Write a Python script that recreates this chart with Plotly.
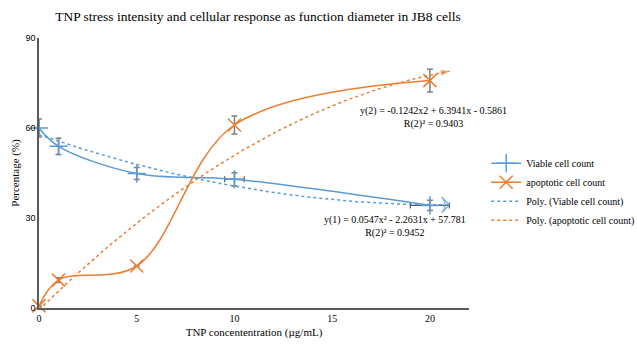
import numpy as np
import plotly.graph_objects as go

# Data
conc = [0, 1, 5, 10, 20]
viable = [60, 53.9, 44.8, 42.9, 34.2]
viable_err = [3, 2.7, 2.0, 2.2, 1.7]
viable_xerr = [0, 0, 0, 0.5, 1.0]
apoptotic = [0.7, 9.3, 14.0, 61.0, 75.8]
apoptotic_err = [0, 0.8, 0, 3.0, 3.8]

# Printed trendline coefficients (order-2 polynomials), forward-extended to x=21
viable_poly = [0.0547, -2.2631, 57.781]
apop_poly = [-0.1242, 6.3941, -0.5861]
trend_x_end = 21

BLUE = "#5B9BD5"
ORANGE = "#ED7D31"
GRAY = "#808080"
SERIF = "Liberation Serif"

tx = np.linspace(0, trend_x_end, 120)
tv = np.polyval(viable_poly, tx)
ta = np.polyval(apop_poly, tx)

fig = go.Figure()

fig.add_trace(go.Scatter(
    x=conc, y=viable, name="Viable cell count", mode="lines+markers",
    line=dict(color=BLUE, width=1.5, shape="spline", smoothing=1),
    marker=dict(symbol="cross-thin", size=13, line=dict(color=BLUE, width=1.5)),
    error_y=dict(type="data", array=viable_err, color=GRAY, thickness=1.5, width=3),
    error_x=dict(type="data", array=viable_xerr, color="#595959", thickness=1.2, width=3),
    cliponaxis=False,
))
fig.add_trace(go.Scatter(
    x=conc, y=apoptotic, name="apoptotic cell count", mode="lines+markers",
    line=dict(color=ORANGE, width=1.5, shape="spline", smoothing=1),
    marker=dict(symbol="x-thin", size=13, line=dict(color=ORANGE, width=1.5)),
    error_y=dict(type="data", array=apoptotic_err, color=GRAY, thickness=1.5, width=3),
    cliponaxis=False,
))
fig.add_trace(go.Scatter(
    x=tx, y=tv, name="Poly. (Viable cell count)", mode="lines",
    line=dict(color=BLUE, width=1.5, dash="dot"), cliponaxis=False,
))
fig.add_trace(go.Scatter(
    x=tx, y=ta, name="Poly. (apoptotic cell count)", mode="lines",
    line=dict(color=ORANGE, width=1.5, dash="dot"), cliponaxis=False,
))
# arrow heads at trendline ends
fig.add_trace(go.Scatter(
    x=tx[-2:], y=tv[-2:], mode="markers", showlegend=False, hoverinfo="skip",
    marker=dict(symbol="arrow-wide-open", size=[0, 11], angleref="previous",
                color=BLUE, line=dict(color=BLUE, width=1.5)),
    cliponaxis=False,
))
fig.add_trace(go.Scatter(
    x=tx[-2:], y=ta[-2:], mode="markers", showlegend=False, hoverinfo="skip",
    marker=dict(symbol="arrow", size=[0, 9], angleref="previous",
                color=ORANGE, line=dict(color=ORANGE, width=0)),
    cliponaxis=False,
))

fig.add_annotation(x=20.2, y=63.5, xref="x", yref="y", showarrow=False,
                   text="y(2) = -0.1242x2 + 6.3941x - 0.5861<br>R(2)² = 0.9403",
                   font=dict(family=SERIF, size=10, color="#000"), align="center")
fig.add_annotation(x=18.2, y=27.3, xref="x", yref="y", showarrow=False,
                   text="y(1) = 0.0547x² - 2.2631x + 57.781<br>R(2)² = 0.9452",
                   font=dict(family=SERIF, size=10, color="#000"), align="center")

fig.update_layout(
    width=637, height=351,
    margin=dict(l=39, r=168, t=38, b=43, autoexpand=False),
    paper_bgcolor="white", plot_bgcolor="white",
    title=dict(text="TNP stress intensity and cellular response as function diameter in JB8 cells",
               x=0.405, xanchor="center", y=0.955, yanchor="middle",
               font=dict(family=SERIF, size=13.5, color="#000")),
    showlegend=True,
    legend=dict(x=1.04, y=0.59, xanchor="left", yanchor="top",
                font=dict(family=SERIF, size=10, color="#000"),
                bgcolor="rgba(0,0,0,0)", tracegroupgap=0, itemwidth=30),
    xaxis=dict(range=[0, 22], tickvals=[0, 5, 10, 15, 20], showgrid=False, zeroline=False,
               showline=True, linecolor="#595959", linewidth=1.5, ticks="",
               tickfont=dict(family=SERIF, size=10, color="#000"),
               title=dict(text="TNP concententration (µg/mL)", standoff=6,
                          font=dict(family=SERIF, size=11, color="#000"))),
    yaxis=dict(range=[0, 90], tickvals=[0, 30, 60, 90], showgrid=False, zeroline=False,
               showline=True, linecolor="#595959", linewidth=1.5, ticks="",
               tickfont=dict(family="Liberation Sans", size=9, color="#000"),
               title=dict(text="Percentage (%)", standoff=4,
                          font=dict(family=SERIF, size=11, color="#000"))),
)

fig.write_html("out.html")
